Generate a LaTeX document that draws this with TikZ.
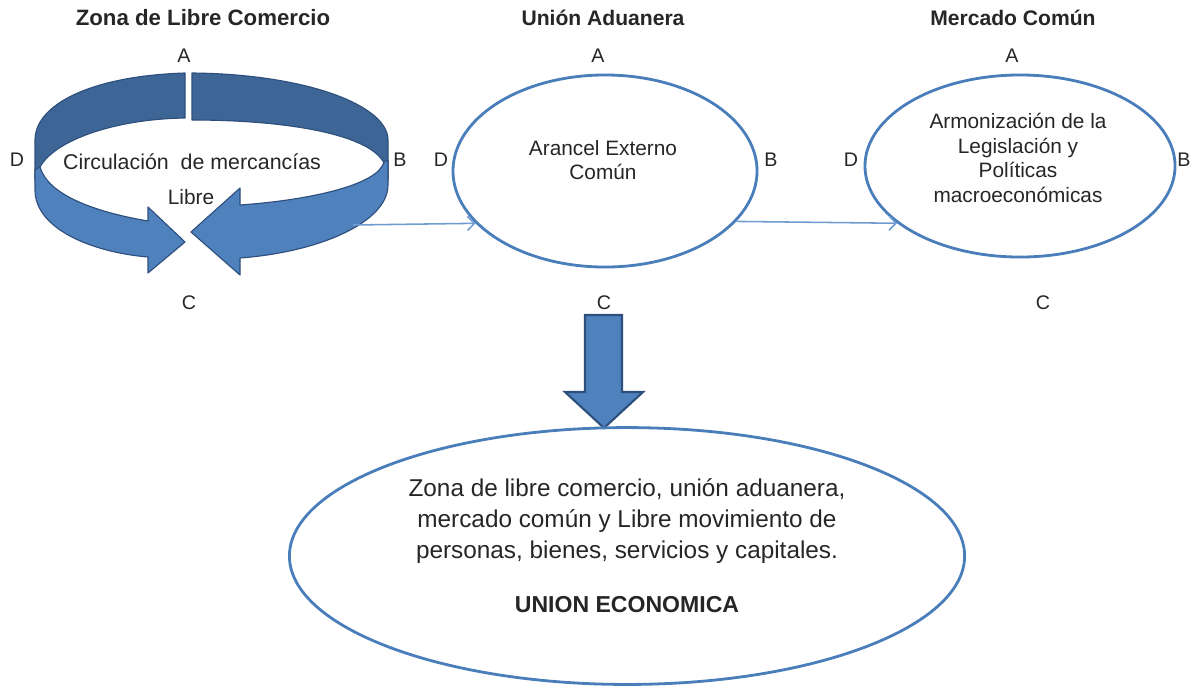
\documentclass[tikz,border=0pt]{standalone}
\usepackage{fontspec}
\setmainfont{Liberation Sans}
\usetikzlibrary{shapes.geometric,arrows.meta}
\definecolor{txt}{HTML}{262626}
\definecolor{ell}{HTML}{4A7EBB}
\definecolor{darkband}{HTML}{3D6696}
\definecolor{lightband}{HTML}{4F81BD}
\definecolor{edgec}{HTML}{2E4F7C}
\definecolor{thin}{HTML}{6F9BD1}
\begin{document}
\begin{tikzpicture}[x=0.025cm,y=-0.025cm,
  head/.style={font=\fontsize{15}{18}\selectfont\bfseries, text=txt},
  lab/.style={font=\fontsize{14}{17}\selectfont, text=txt},
  intext/.style={font=\fontsize{14.8}{17.5}\selectfont, text=txt, align=center},
  oval/.style={ellipse, draw=ell, line width=2pt, inner sep=0pt},
  conn/.style={draw=thin, line width=1.1pt, -{Straight Barb[length=5pt,width=10pt]}},
  band/.style={draw=edgec, line width=0.8pt, line join=round}
]
\useasboundingbox (0,0) rectangle (1200,687);

% headings
\node[head, font=\fontsize{15.8}{18}\selectfont\bfseries] (h1) at (203,18) {Zona de Libre Comercio};
\node[head] (h2) at (603,18) {Unión Aduanera};
\node[head] (h3) at (1013,18) {Mercado Común};

% circular arrow (Zona de Libre Comercio)
\fill[band, fill=darkband] (185,73) .. controls (90,76) and (35,105) .. (35,140) -- (35,180) -- (40,167) .. controls (55,140) and (115,119) .. (185,118) -- cycle;
\fill[band, fill=darkband] (192,73) .. controls (305,74) and (388,105) .. (388,140) -- (388,180) -- (384,163) .. controls (370,135) and (290,120) .. (192,120) -- cycle;
\filldraw[band, fill=lightband] (35,170) -- (35,190) .. controls (35,228) and (90,252) .. (148,257) -- (148,273) -- (185,242) -- (148,207) -- (148,221) .. controls (95,212) and (48,195) .. (40,167) -- cycle;
\filldraw[band, fill=lightband] (388,160) -- (388,185) .. controls (388,222) and (320,252) .. (240,258) -- (240,275) -- (191,232) -- (240,188) -- (240,205) .. controls (310,200) and (378,185) .. (384,162) -- cycle;
\node[intext, font=\fontsize{15.2}{17.5}\selectfont] (t1) at (192,162) {Circulación\ \ de\ mercancías};
\node[intext] (t1b) at (191,197) {Libre};
\coordinate (r1) at (353,225);

% ellipses
\node[oval, minimum width=7.6cm, minimum height=4.8cm] (e2) at (605,171) {};
\node[intext] (t2) at (603,160) {Arancel Externo\\Común};
\node[oval, minimum width=7.75cm, minimum height=4.55cm] (e3) at (1020,166) {};
\node[intext] (t3) at (1018,158) {Armonización de la\\Legislación y\\Políticas\\macroeconómicas};

% letters
\node[lab] (a1) at (184,56) {A};
\node[lab] (a2) at (598,56) {A};
\node[lab] (a3) at (1012,56) {A};
\node[lab] (d1) at (17,160) {D};
\node[lab] (d2) at (441,160) {D};
\node[lab] (d3) at (851,160) {D};
\node[lab] (b1) at (400,160) {B};
\node[lab] (b2) at (771,160) {B};
\node[lab] (b3) at (1184,160) {B};
\node[lab] (c1) at (189,303) {C};
\node[lab] (c2) at (604,303) {C};
\node[lab] (c3) at (1043,303) {C};

% thin connectors
\draw[conn] (r1) -- (e2.202);
\draw[conn] (e2.-21) -- (e3.-155);

% block arrow down
\filldraw[fill=lightband, draw=edgec, line width=1.5pt, line join=miter]
  (585,315) -- (622,315) -- (622,392) -- (643,392) -- (604,428) -- (565,392) -- (585,392) -- cycle;

% big ellipse
\node[oval, minimum width=16.875cm, minimum height=6.42cm] (e4) at (627,556) {};
\node[font=\fontsize{17.3}{22}\selectfont, text=txt, align=center] (t4) at (627,521)
  {Zona de libre comercio, unión aduanera,\\mercado común y Libre movimiento de\\personas, bienes, servicios y capitales.};
\node[font=\fontsize{16.4}{20}\selectfont\bfseries, text=txt] (t5) at (627,605) {UNION ECONOMICA};
\end{tikzpicture}
\end{document}
